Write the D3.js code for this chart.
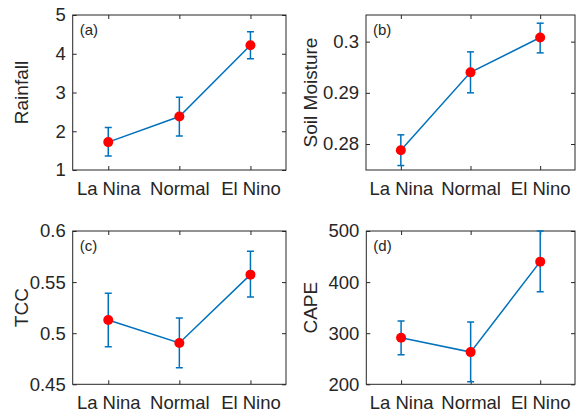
<!DOCTYPE html>
<html>
<head>
<meta charset="utf-8">
<script src="https://cdn.jsdelivr.net/npm/d3@7"></script>
<style>
  body { margin: 0; background: #fff; }
  svg { display: block; font-family: "Liberation Sans", Arial, sans-serif; }
</style>
</head>
<body>
<div id="chart"></div>
<script>
const categories = ["La Nina", "Normal", "El Nino"]

// values: mean, lower and upper end of the error bar
const rainfallMean = [1.72, 2.38, 4.22]
const rainfallLow = [1.36, 1.88, 3.87]
const rainfallHigh = [2.10, 2.88, 4.57]

const soilMean = [0.2788, 0.2940, 0.3008]
const soilLow = [0.2758, 0.2900, 0.2978]
const soilHigh = [0.2818, 0.2980, 0.3036]

const tccMean = [0.5129, 0.4904, 0.5573]
const tccLow = [0.4868, 0.4663, 0.5354]
const tccHigh = [0.5390, 0.5149, 0.5801]

const capeMean = [291, 263, 440]
const capeLow = [258, 205, 381]
const capeHigh = [324, 322, 500]

const rainfallTicks = [1, 2, 3, 4, 5]
const soilTicks = [0.28, 0.29, 0.3]
const tccTicks = [0.45, 0.5, 0.55, 0.6]
const capeTicks = [200, 300, 400, 500]

const width = 579
const height = 417
const blue = "#0072bd"
const axisColor = "#262626"

const svg = d3.select("#chart").append("svg")
    .attr("width", width)
    .attr("height", height)

// one entry per panel; box = [left, top, right, bottom]
const panels = [
    {tag: "(a)", label: "Rainfall", mean: rainfallMean, low: rainfallLow, high: rainfallHigh,
     ticks: rainfallTicks, domain: [1, 5], box: [72.7, 15, 286, 170], labelX: 28},
    {tag: "(b)", label: "Soil Moisture", mean: soilMean, low: soilLow, high: soilHigh,
     ticks: soilTicks, domain: [0.27493, 0.30520], box: [366, 15, 575, 170], labelX: 317},
    {tag: "(c)", label: "TCC", mean: tccMean, low: tccLow, high: tccHigh,
     ticks: tccTicks, domain: [0.45, 0.6], box: [72.7, 231, 286, 384.3], labelX: 28},
    {tag: "(d)", label: "CAPE", mean: capeMean, low: capeLow, high: capeHigh,
     ticks: capeTicks, domain: [200, 500], box: [366.3, 231, 575, 384.3], labelX: 317},
]

const fmt = v => String(+v.toFixed(4))

panels.forEach((p, pi) => {
    const [x0, y0, x1, y1] = p.box
    const g = svg.append("g")

    const x = d3.scalePoint()
        .domain(categories)
        .range([x0, x1])
        .padding(0.5)

    const y = d3.scaleLinear()
        .domain(p.domain)
        .range([y1, y0])

    // bottom and left axes with inward ticks
    const xAxis = g.append("g")
        .attr("transform", `translate(0,${y1})`)
        .call(d3.axisBottom(x).tickSize(-4).tickPadding(12))
    const yAxis = g.append("g")
        .attr("transform", `translate(${x0},0)`)
        .call(d3.axisLeft(y).tickValues(p.ticks).tickFormat(fmt).tickSize(-4).tickPadding(7))
    // mirrored ticks on top and right
    const xTop = g.append("g")
        .attr("transform", `translate(0,${y0})`)
        .call(d3.axisTop(x).tickSize(-4).tickFormat(""))
    const yRight = g.append("g")
        .attr("transform", `translate(${x1},0)`)
        .call(d3.axisRight(y).tickValues(p.ticks).tickSize(-4).tickFormat(""))

    for (const a of [xAxis, yAxis, xTop, yRight]) {
        a.select(".domain").remove()
        a.selectAll("line").attr("stroke", axisColor)
        a.selectAll("text")
            .attr("fill", axisColor)
            .style("font-size", "18.5px")
            .style("font-family", "'Liberation Sans', Arial, sans-serif")
    }
    xAxis.selectAll("text").attr("dy", "0.71em")

    g.append("rect")
        .attr("x", x0)
        .attr("y", y0)
        .attr("width", x1 - x0)
        .attr("height", y1 - y0)
        .attr("fill", "none")
        .attr("stroke", axisColor)
        .attr("stroke-width", 1)

    const clipId = "clip" + pi
    g.append("clipPath").attr("id", clipId)
        .append("rect")
        .attr("x", x0).attr("y", y0 - 1)
        .attr("width", x1 - x0).attr("height", y1 - y0 + 2)

    const plot = g.append("g").attr("clip-path", `url(#${clipId})`)

    const rows = categories.map((c, i) => ({c, m: p.mean[i], lo: p.low[i], hi: p.high[i]}))

    // error bars
    const eb = plot.append("g")
        .attr("stroke", blue)
        .attr("stroke-width", 1.5)
        .attr("fill", "none")
    eb.selectAll("line.v")
        .data(rows)
        .join("line")
        .attr("class", "v")
        .attr("x1", d => x(d.c))
        .attr("x2", d => x(d.c))
        .attr("y1", d => y(d.lo))
        .attr("y2", d => y(d.hi))
    eb.selectAll("line.lo")
        .data(rows)
        .join("line")
        .attr("class", "lo")
        .attr("x1", d => x(d.c) - 3.5)
        .attr("x2", d => x(d.c) + 3.5)
        .attr("y1", d => y(d.lo))
        .attr("y2", d => y(d.lo))
    eb.selectAll("line.hi")
        .data(rows)
        .join("line")
        .attr("class", "hi")
        .attr("x1", d => x(d.c) - 3.5)
        .attr("x2", d => x(d.c) + 3.5)
        .attr("y1", d => y(d.hi))
        .attr("y2", d => y(d.hi))

    // connecting line
    plot.append("path")
        .datum(rows)
        .attr("fill", "none")
        .attr("stroke", blue)
        .attr("stroke-width", 1.5)
        .attr("d", d3.line().x(d => x(d.c)).y(d => y(d.m)))

    // markers
    g.append("g")
        .selectAll("circle")
        .data(rows)
        .join("circle")
        .attr("cx", d => x(d.c))
        .attr("cy", d => y(d.m))
        .attr("r", 5)
        .attr("fill", "#ff0000")

    g.append("text")
        .attr("x", x0 + 7)
        .attr("y", y0 + 20)
        .attr("fill", axisColor)
        .style("font-size", "15px")
        .text(p.tag)

    g.append("text")
        .attr("transform", `translate(${p.labelX},${(y0 + y1) / 2}) rotate(-90)`)
        .attr("text-anchor", "middle")
        .attr("fill", axisColor)
        .style("font-size", "19px")
        .text(p.label)
})
</script>
</body>
</html>
